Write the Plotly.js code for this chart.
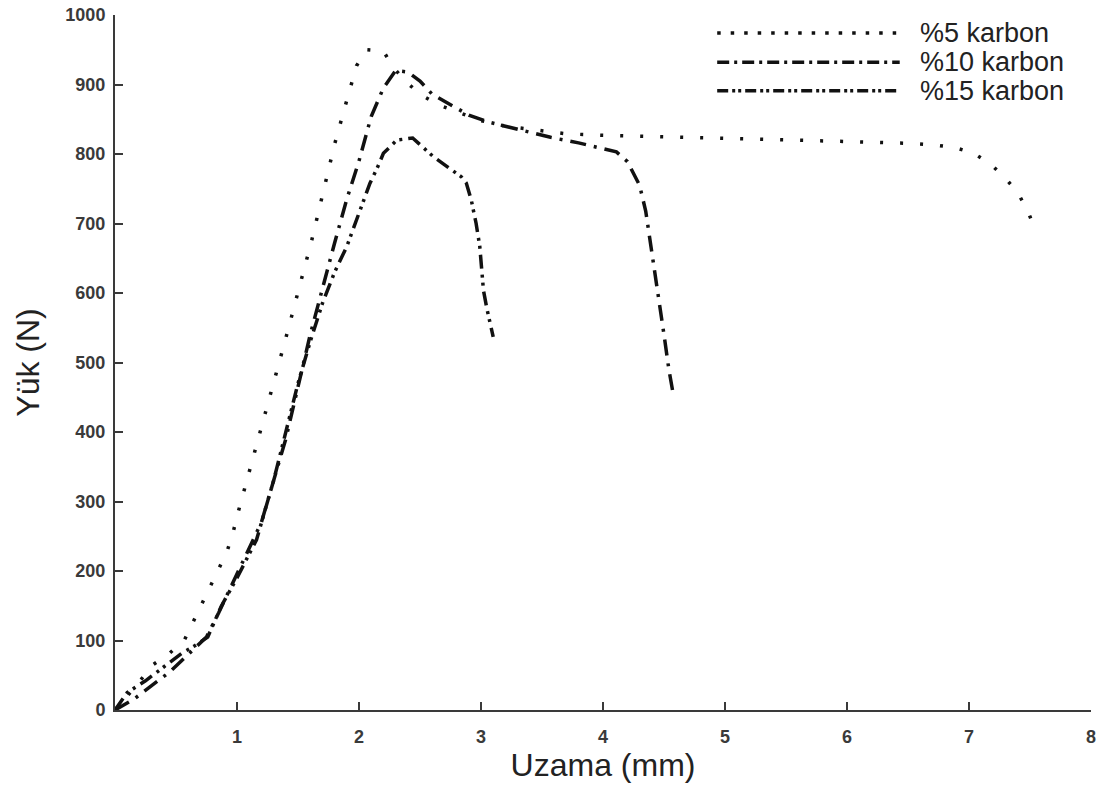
<!DOCTYPE html>
<html>
<head>
<meta charset="utf-8">
<script src="https://cdn.plot.ly/plotly-3.0.1.min.js"></script>
<style>html,body{margin:0;padding:0;background:#fff;}#chart{width:1107px;height:794px;}</style>
</head>
<body>
<div id="chart"></div>
<script>
const seriesNames = ['%5 karbon', '%10 karbon', '%15 karbon'];

const x5 = [0, 0.15, 0.31, 0.45, 0.57, 0.64, 0.71, 0.78, 0.85, 0.92, 0.97, 1.01, 1.2, 1.4, 1.61, 1.65, 1.73, 1.80, 1.89, 1.98, 2.06, 2.2, 2.28, 2.39, 2.51, 2.66, 2.8, 3.0, 3.2, 3.46, 3.7, 4.0, 4.5, 5.0, 5.5, 6.0, 6.56, 6.72, 6.89, 7.04, 7.18, 7.30, 7.40, 7.48, 7.54];
const y5 = [0, 30, 65, 82, 101, 126, 151, 177, 203, 229, 257, 285, 405, 535, 674, 703, 759, 814, 871, 927, 950, 948, 925, 903, 885, 870, 861, 848, 840, 834, 829, 827, 825, 822, 820, 818, 815, 813, 809, 801, 785, 765, 744, 719, 692];

const x10 = [0, 0.15, 0.3, 0.45, 0.6, 0.75, 0.85, 1.0, 1.2, 1.4, 1.6, 1.8, 1.9, 2.0, 2.1, 2.2, 2.3, 2.4, 2.5, 2.6, 2.76, 2.9, 3.06, 3.2, 3.37, 3.57, 3.8, 4.0, 4.11, 4.2, 4.25, 4.3, 4.35, 4.4, 4.45, 4.5, 4.54, 4.57];
const y10 = [0, 15, 35, 55, 80, 105, 140, 195, 270, 390, 540, 672, 735, 790, 854, 895, 920, 918, 905, 886, 870, 856, 846, 840, 833, 824, 816, 807, 803, 789, 773, 755, 718, 661, 604, 540, 490, 460];

const x15 = [0, 0.1, 0.25, 0.4, 0.55, 0.65, 0.76, 0.87, 1.0, 1.16, 1.3, 1.5, 1.6, 1.7, 1.8, 1.9, 2.02, 2.09, 2.16, 2.2, 2.31, 2.39, 2.44, 2.61, 2.72, 2.84, 2.88, 2.92, 2.96, 2.99, 3.02, 3.05, 3.10];
const y15 = [0, 25, 42, 62, 82, 92, 105, 149, 190, 245, 330, 470, 530, 585, 630, 667, 724, 758, 784, 801, 820, 822, 823, 796, 782, 767, 758, 734, 700, 667, 604, 576, 537];

const xTickVals = [1, 2, 3, 4, 5, 6, 7, 8];
const yTickVals = [0, 100, 200, 300, 400, 500, 600, 700, 800, 900, 1000];

const lineColor = '#111';
const dashStyles = ['3px,17px', '16px,8px,3px,8px', '14px,6px,3px,5px,3px,6px'];
const legendDash = ['3.5px,10px', '12px,5px,3px,5px', '11px,4px,3px,3px,3px,4px'];
const xs = [x5, x10, x15];
const ys = [y5, y10, y15];

const traces = xs.map((xv, i) => ({
  x: xv, y: ys[i], name: seriesNames[i], mode: 'lines', showlegend: false,
  line: {color: lineColor, width: 3.5, dash: dashStyles[i]}
}));

const fontFam = 'Liberation Sans, Arial, sans-serif';

// legend drawn as paper-anchored samples + labels
const legendRowsY = [0.974, 0.932, 0.891];
const legendShapes = legendRowsY.map((yy, i) => ({
  type: 'line', xref: 'paper', yref: 'paper', x0: 0.617, x1: 0.804, y0: yy, y1: yy,
  line: {color: lineColor, width: 3.5, dash: legendDash[i]}
}));
const legendLabels = legendRowsY.map((yy, i) => ({
  xref: 'paper', yref: 'paper', x: 0.823, y: yy, xanchor: 'left', yanchor: 'middle',
  text: seriesNames[i], showarrow: false, font: {family: fontFam, size: 27, color: '#222'}
}));

const axisCommon = {
  showgrid: false, zeroline: false, showline: true, linecolor: '#3a3a3a', linewidth: 2,
  ticks: 'inside', ticklen: 8, tickwidth: 2, tickcolor: '#3a3a3a',
  tickfont: {family: fontFam, size: 18, color: '#3a3a3a', weight: 'bold'}
};

const layout = {
  width: 1107, height: 794,
  margin: {l: 115, r: 16, t: 15, b: 84},
  paper_bgcolor: '#fff', plot_bgcolor: '#fff',
  showlegend: false,
  shapes: legendShapes,
  annotations: legendLabels,
  xaxis: Object.assign({}, axisCommon, {range: [0, 8], tickvals: xTickVals, ticktext: xTickVals.map(String),
    ticklabelstandoff: 9,
    title: {text: 'Uzama (mm)', font: {family: fontFam, size: 32, color: '#222'}, standoff: 4}}),
  yaxis: Object.assign({}, axisCommon, {range: [0, 1000], tickvals: yTickVals, ticktext: yTickVals.map(String),
    ticklabelstandoff: 4,
    title: {text: 'Yük (N)', font: {family: fontFam, size: 32, color: '#222'}, standoff: 16}})
};

Plotly.newPlot('chart', traces, layout, {displayModeBar: false, staticPlot: true});
</script>
</body>
</html>
